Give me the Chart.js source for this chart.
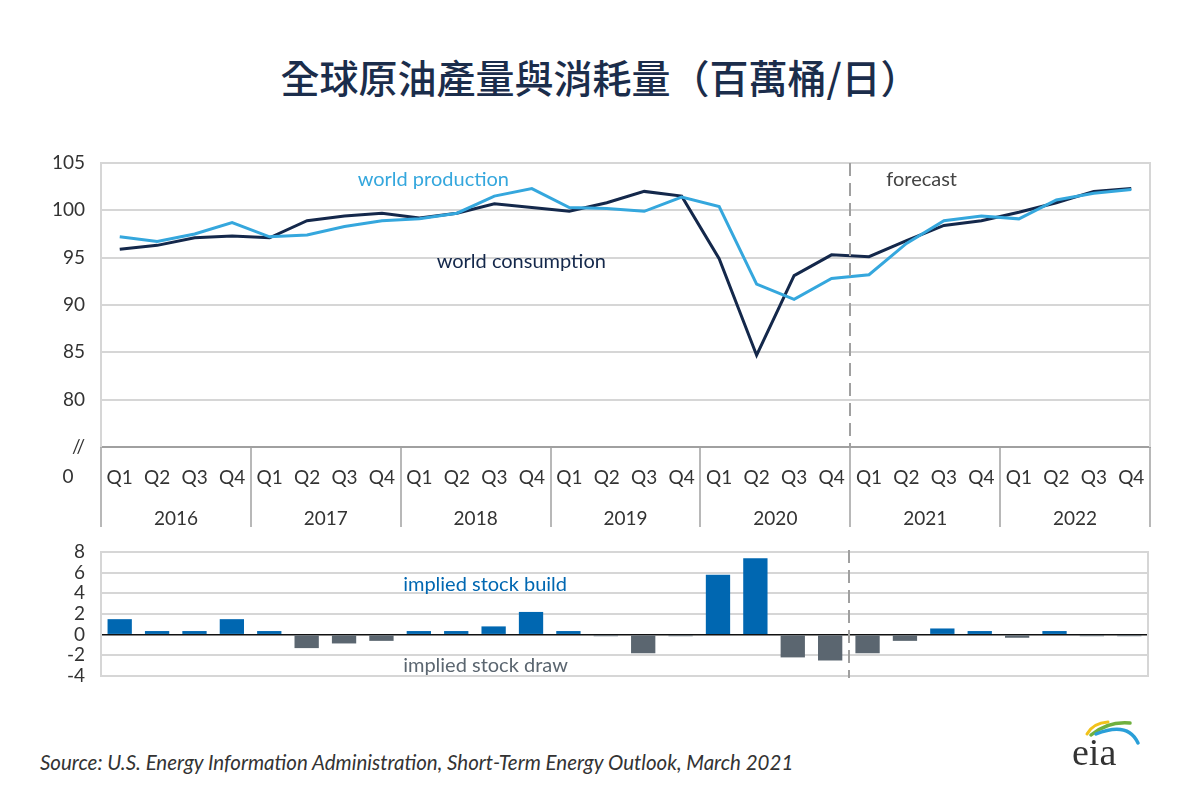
<!DOCTYPE html>
<html>
<head>
<meta charset="utf-8">
<script src="https://cdn.jsdelivr.net/npm/chart.js@4.4.1/dist/chart.umd.min.js"></script>
<style>
  body { margin: 0; background: #fff; width: 1200px; height: 800px; position: relative; overflow: hidden; font-family: Lato, sans-serif; }
  #title { position: absolute; top: 48px; left: 0; width: 1200px; text-align: center; font: 500 39px "Noto Sans CJK TC"; color: #1b2d4b; }
  #topChart { position: absolute; left: 0; top: 140px; }
  #botChart { position: absolute; left: 0; top: 540px; }
  #source { position: absolute; left: 40px; top: 750px; font: italic 20.5px Lato; color: #333; }
  #logo { position: absolute; left: 1060px; top: 710px; }
</style>
</head>
<body>
<div id="title">全球原油產量與消耗量（百萬桶/日）</div>
<canvas id="topChart" width="1200" height="390"></canvas>
<canvas id="botChart" width="1200" height="150"></canvas>
<div id="source">Source: U.S. Energy Information Administration, Short-Term Energy Outlook, March 2021</div>
<canvas id="logo" width="100" height="70"></canvas>
<script>
const years = ["2016", "2017", "2018", "2019", "2020", "2021", "2022"];
const quarters = ["Q1", "Q2", "Q3", "Q4"];
const production = [97.2, 96.7, 97.5, 98.7, 97.2, 97.4, 98.3, 98.9, 99.1, 99.7, 101.5, 102.3, 100.3, 100.2, 99.9, 101.4, 100.4, 92.2, 90.6, 92.8, 93.2, 96.5, 98.9, 99.4, 99.1, 101.1, 101.8, 102.2];
const consumption = [95.9, 96.3, 97.1, 97.3, 97.1, 98.9, 99.4, 99.7, 99.2, 99.7, 100.7, 100.3, 99.9, 100.8, 102.0, 101.5, 94.9, 84.7, 93.1, 95.3, 95.1, 96.8, 98.4, 98.9, 99.8, 100.8, 102.0, 102.3];
const stockChange = [1.5, 0.35, 0.35, 1.5, 0.35, -1.3, -0.85, -0.6, 0.35, 0.35, 0.8, 2.2, 0.35, -0.15, -1.8, -0.15, 5.8, 7.4, -2.2, -2.5, -1.8, -0.6, 0.6, 0.35, -0.3, 0.35, -0.15, -0.15];
const topTicks = [75, 80, 85, 90, 95, 100, 105];
const botTicks = [-4, -2, 0, 2, 4, 6, 8];
const forecastStart = 20; // 2021 Q1

const labels = [];
years.forEach(() => quarters.forEach((q) => labels.push(q)));

const PROD = "#35a7dd";
const CONS = "#14284b";
const BUILD = "#0067b1";
const DRAW = "#5b6670";
const GRID = "#d6d6d6";
const TXT = "#333";

// text notes placed in data coordinates (x = category index, y = value)
const topNotes = [
    { text: "world production", x: 6.35, y: 103.2, color: PROD },
    { text: "world consumption", x: 8.46, y: 94.6, color: CONS },
    { text: "forecast", x: 20.46, y: 103.2, color: "#444" },
];
const botNotes = [
    { text: "implied stock build", x: 7.58, y: 4.85, color: BUILD },
    { text: "implied stock draw", x: 7.58, y: -3.0, color: DRAW },
];

function drawNotes(ctx, xs, ys, notes) {
    ctx.font = "20px Lato";
    ctx.textAlign = "left";
    ctx.textBaseline = "middle";
    notes.forEach((n) => {
        ctx.fillStyle = n.color;
        ctx.fillText(n.text, xs.getPixelForValue(n.x), ys.getPixelForValue(n.y));
    });
}

function forecastX(xs) {
    return Math.round((xs.getPixelForValue(forecastStart - 1) + xs.getPixelForValue(forecastStart)) / 2);
}

function dashed(ctx, x, y0, y1) {
    ctx.save();
    ctx.strokeStyle = "#a0a0a0";
    ctx.lineWidth = 2;
    ctx.setLineDash([13, 7]);
    ctx.beginPath();
    ctx.moveTo(x, y0);
    ctx.lineTo(x, y1);
    ctx.stroke();
    ctx.restore();
}

// fixed axis width, no automatic label padding
function fitY(s) {
    s.width = 101;
    s.paddingTop = 0;
    s.paddingBottom = 0;
}

const topDecor = {
    id: "topDecor",
    afterDraw(chart) {
        const { ctx, chartArea: a, scales: { x, y } } = chart;
        const half = (x.getPixelForValue(1) - x.getPixelForValue(0)) / 2;
        ctx.save();
        ctx.strokeStyle = GRID;
        ctx.lineWidth = 2;
        ctx.beginPath();
        ctx.moveTo(a.left, a.top);
        ctx.lineTo(a.right, a.top);
        ctx.lineTo(a.right, a.bottom);
        ctx.stroke();

        ctx.strokeStyle = "#a0a0a0";
        ctx.lineWidth = 1.5;
        for (let i = 0; i <= years.length; i++) {
            const px = Math.round(x.getPixelForValue(i * 4) - half);
            ctx.beginPath();
            ctx.moveTo(px, a.bottom);
            ctx.lineTo(px, a.bottom + 80);
            ctx.stroke();
        }

        ctx.fillStyle = TXT;
        ctx.font = "19px Lato";
        ctx.textAlign = "center";
        ctx.textBaseline = "middle";
        years.forEach((yr, i) => {
            const cx = (x.getPixelForValue(i * 4) + x.getPixelForValue(i * 4 + 3)) / 2;
            ctx.fillText(yr, cx, a.bottom + 72);
        });
        ctx.fillText("0", a.left - 33, a.bottom + 30);

        dashed(ctx, forecastX(x), a.top, a.bottom);
        drawNotes(ctx, x, y, topNotes);
        ctx.restore();
    },
};

const botDecor = {
    id: "botDecor",
    afterDraw(chart) {
        const { ctx, chartArea: a, scales: { x, y } } = chart;
        ctx.save();
        ctx.strokeStyle = GRID;
        ctx.lineWidth = 2;
        ctx.strokeRect(a.left, a.top, a.right - a.left, a.bottom - a.top);
        dashed(ctx, forecastX(x), a.top - 2, a.bottom + 2);
        drawNotes(ctx, x, y, botNotes);
        ctx.restore();
    },
};

new Chart(document.getElementById("topChart"), {
    type: "line",
    data: {
        labels: labels,
        datasets: [
            { label: "world production", data: production, borderColor: PROD, borderWidth: 3, pointRadius: 0, tension: 0 },
            { label: "world consumption", data: consumption, borderColor: CONS, borderWidth: 3, pointRadius: 0, tension: 0 },
        ],
    },
    options: {
        responsive: false,
        animation: false,
        layout: { padding: { top: 23, right: 50, left: 0, bottom: 0 } },
        plugins: { legend: { display: false }, tooltip: { enabled: false } },
        scales: {
            x: {
                offset: true,
                grid: { display: false },
                border: { display: true, color: "#a0a0a0", width: 2 },
                ticks: { color: TXT, font: { family: "Lato", size: 19 }, padding: 11, maxRotation: 0, autoSkip: false },
                afterFit: (s) => { s.height = 83; },
            },
            y: {
                min: 75,
                max: 105,
                afterBuildTicks: (s) => { s.ticks = topTicks.map((v) => ({ value: v })); },
                ticks: {
                    color: TXT,
                    font: { family: "Lato", size: 19 },
                    padding: 16,
                    autoSkip: false,
                    callback: (v) => (v === 75 ? "//" : v),
                },
                grid: { color: GRID, lineWidth: 2, drawTicks: false },
                border: { display: true, color: GRID, width: 2 },
                afterFit: fitY,
            },
        },
    },
    plugins: [topDecor],
});

new Chart(document.getElementById("botChart"), {
    type: "bar",
    data: {
        labels: labels,
        datasets: [{
            label: "implied stock change",
            data: stockChange,
            backgroundColor: stockChange.map((v) => (v >= 0 ? BUILD : DRAW)),
            barPercentage: 0.65,
            categoryPercentage: 1,
        }],
    },
    options: {
        responsive: false,
        animation: false,
        layout: { padding: { top: 12, right: 52, left: 0, bottom: 14 } },
        plugins: { legend: { display: false }, tooltip: { enabled: false } },
        scales: {
            x: { display: false, offset: true },
            y: {
                min: -4,
                max: 8,
                afterBuildTicks: (s) => { s.ticks = botTicks.map((v) => ({ value: v })); },
                ticks: { color: TXT, font: { family: "Lato", size: 19, lineHeight: 1 }, padding: 16, autoSkip: false },
                grid: {
                    color: (c) => (c.tick && c.tick.value === 0 ? "#111" : GRID),
                    lineWidth: (c) => (c.tick && c.tick.value === 0 ? 1.5 : 2),
                    drawTicks: false,
                },
                border: { display: false },
                afterFit: fitY,
            },
        },
    },
    plugins: [botDecor],
});

// eia logo
(function () {
    const c = document.getElementById("logo").getContext("2d");
    const arc = (color, x0, y0, cx, cy, x1, y1, w) => {
        c.strokeStyle = color;
        c.lineWidth = w;
        c.lineCap = "round";
        c.beginPath();
        c.moveTo(x0, y0);
        c.quadraticCurveTo(cx, cy, x1, y1);
        c.stroke();
    };
    arc("#f2c21b", 27, 24, 33, 13, 48, 12, 3);
    arc("#6fb03f", 31, 25, 48, 11, 70, 13, 3.5);
    arc("#2a9fd8", 36, 24, 68, 11, 78, 33, 3.5);
    c.fillStyle = "#333";
    c.font = "38px 'Liberation Serif'";
    c.textBaseline = "alphabetic";
    c.fillText("eia", 12, 55);
})();
</script>
</body>
</html>
